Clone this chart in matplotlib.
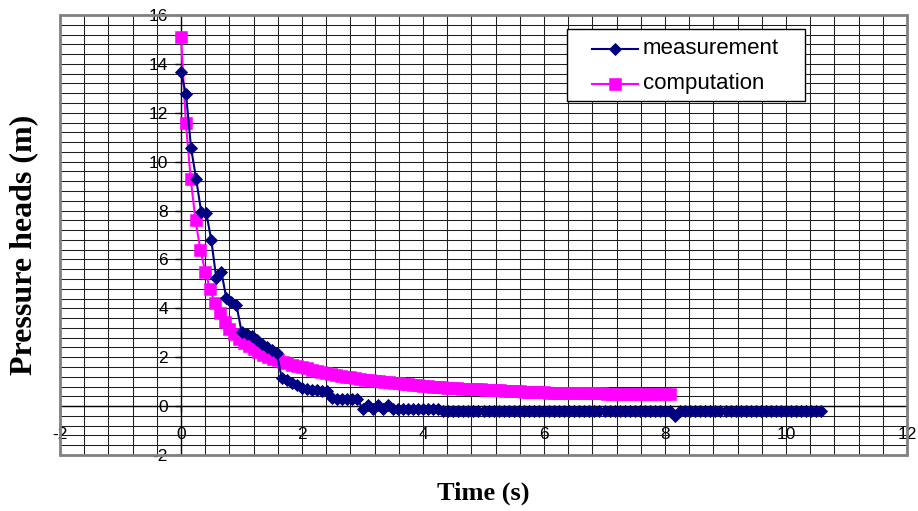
import numpy as np
import matplotlib
matplotlib.use("Agg")
import matplotlib.pyplot as plt
from matplotlib.ticker import MultipleLocator
from matplotlib.patches import Rectangle
from matplotlib.lines import Line2D

# Measured pressure head (m), sampled every 1/12 s
meas_dt = 1.0 / 12.0
measurement = [
    13.66, 12.75, 10.56, 9.3, 7.95, 7.92, 6.8, 5.23, 5.5, 4.41,
    4.25, 4.14, 3.05, 2.95, 2.88, 2.7, 2.55, 2.4, 2.3, 2.16,
    1.13, 1.05, 0.95, 0.85, 0.74, 0.7, 0.67, 0.66, 0.63, 0.6,
    0.32, 0.3, 0.3, 0.3, 0.3, 0.3,
    -0.12, 0.05, -0.12, 0.05, -0.1, 0.05, -0.1,
    -0.1, -0.1, -0.1, -0.1, -0.1, -0.1, -0.1, -0.1, -0.1,
    -0.2, -0.2, -0.2, -0.2, -0.2, -0.2, -0.2, -0.2, -0.2, -0.2,
    -0.2, -0.2, -0.2, -0.2, -0.2, -0.2, -0.2, -0.2, -0.2, -0.2,
    -0.2, -0.2, -0.2, -0.2, -0.2, -0.2, -0.2, -0.2, -0.2, -0.2,
    -0.2, -0.2, -0.2, -0.2, -0.2, -0.2, -0.2, -0.2, -0.2, -0.2,
    -0.2, -0.2, -0.2, -0.2, -0.2, -0.2, -0.4, -0.2, -0.2, -0.2,
    -0.2, -0.2, -0.2, -0.2, -0.2, -0.2, -0.2, -0.2, -0.2, -0.2,
    -0.2, -0.2, -0.2, -0.2, -0.2, -0.2, -0.2, -0.2, -0.2, -0.2,
    -0.2, -0.2, -0.2, -0.2, -0.2, -0.2,
]

# Computed pressure head (m), time step 0.08 s
comp_dt = 0.08
computation = [
    15.1, 11.6, 9.3, 7.6, 6.4, 5.5, 4.8, 4.2, 3.8, 3.45,
    3.17, 2.95, 2.76, 2.6, 2.45, 2.32, 2.21, 2.11, 2.02, 1.94,
    1.87, 1.81, 1.75, 1.7, 1.65, 1.6, 1.54, 1.49, 1.44, 1.4,
    1.36, 1.32, 1.28, 1.25, 1.21, 1.18, 1.15, 1.11, 1.07, 1.05,
    1.03, 1.01, 0.99, 0.97, 0.95, 0.93, 0.91, 0.89, 0.87, 0.85,
    0.83, 0.81, 0.8, 0.78, 0.77, 0.76, 0.75, 0.73, 0.72, 0.71,
    0.7, 0.69, 0.68, 0.67, 0.66, 0.65, 0.64, 0.63, 0.62, 0.61,
    0.6, 0.59, 0.58, 0.575, 0.57, 0.56, 0.555, 0.55, 0.547, 0.544,
    0.54, 0.537, 0.534, 0.53, 0.527, 0.524, 0.52, 0.517, 0.514, 0.511,
    0.508, 0.505, 0.502, 0.5, 0.497, 0.494, 0.492, 0.49, 0.488, 0.486,
    0.484, 0.482,
]

series_names = ["measurement", "computation"]
x_label = "Time (s)"
y_label = "Pressure heads (m)"

t_meas = np.arange(len(measurement)) * meas_dt
t_comp = np.arange(len(computation)) * comp_dt

NAVY = "#000080"
MAGENTA = "#FF00FF"
meas_style = dict(color=NAVY, linewidth=1.5, marker="D", markersize=6.2,
                  markeredgewidth=0.6)
comp_style = dict(color=MAGENTA, linewidth=1.5, marker="s", markersize=8.6,
                  markeredgewidth=0.4)

W, H = 918, 511
fig = plt.figure(figsize=(W / 100, H / 100), dpi=100)
ax = fig.add_axes([60 / W, 56 / H, 847 / W, 440 / H])

ax.set_xlim(-2, 12)
ax.set_ylim(-2, 16)

# fine grid every 0.4 units
ax.xaxis.set_major_locator(MultipleLocator(2))
ax.yaxis.set_major_locator(MultipleLocator(2))
ax.xaxis.set_minor_locator(MultipleLocator(0.4))
ax.yaxis.set_minor_locator(MultipleLocator(0.4))
ax.grid(which="both", color="#1e1e1e", linewidth=0.75)
ax.set_axisbelow(True)

# axes cross at the origin
for side in ("top", "right"):
    ax.spines[side].set_visible(False)
ax.spines["left"].set_position(("data", 0))
ax.spines["bottom"].set_position(("data", 0))
for side in ("left", "bottom"):
    ax.spines[side].set_color("black")
    ax.spines[side].set_linewidth(1.0)

ax.tick_params(which="minor", length=0)
ax.tick_params(axis="y", which="major", direction="out", length=4, width=1, pad=5.5)
ax.tick_params(axis="x", which="major", direction="out", length=4, width=1, pad=11)
tick_font = {"family": "Liberation Sans", "size": 12.5}
xticks = np.arange(-2, 12.1, 2)
yticks = np.arange(-2, 16.1, 2)
ax.set_xticks(xticks)
ax.set_yticks(yticks)
ax.set_xticklabels([f"{v:g}" for v in xticks], fontdict=tick_font)
ax.set_yticklabels([f"{v:g}" for v in yticks], fontdict=tick_font)

# plot-area border
ax.add_patch(Rectangle((0, 0), 1, 1, transform=ax.transAxes, fill=False,
                       edgecolor="#808080", linewidth=2.0, clip_on=False, zorder=5))

ax.plot(t_comp, computation, label=series_names[1], zorder=3, **comp_style)
ax.plot(t_meas, measurement, label=series_names[0], zorder=4, **meas_style)

# legend box, laid out in figure pixels
def px(x, y):
    return x / W, 1 - y / H

x0, y0 = px(567, 29)
x1, y1 = px(805, 101)
fig.patches.append(Rectangle((x0, y1), x1 - x0, y0 - y1, transform=fig.transFigure,
                             facecolor="white", edgecolor="black", linewidth=1.0,
                             zorder=10))
for name, style, row_y in ((series_names[0], meas_style, 49),
                           (series_names[1], comp_style, 84)):
    hx0, hy = px(592, row_y)
    hx1, _ = px(638, row_y)
    hm, _ = px(615, row_y)
    fig.lines.append(Line2D([hx0, hx1], [hy, hy], transform=fig.transFigure,
                            color=style["color"], linewidth=style["linewidth"],
                            zorder=11))
    fig.lines.append(Line2D([hm], [hy], transform=fig.transFigure, linestyle="none",
                            marker=style["marker"], markersize=style["markersize"],
                            markeredgewidth=style["markeredgewidth"],
                            color=style["color"], zorder=12))
    tx, ty = px(643, row_y)
    fig.text(tx, ty, name, ha="left", va="center", family="Liberation Sans",
             size=16, zorder=12)

fig.text(483 / W, 1 - 493 / H, x_label, ha="center", va="center",
         family="Liberation Serif", weight="bold", size=19)
fig.text(24 / W, 1 - 245 / H, y_label, ha="center", va="center", rotation=90,
         family="Liberation Serif", weight="bold", size=23)

fig.savefig("out.png", dpi=100)
